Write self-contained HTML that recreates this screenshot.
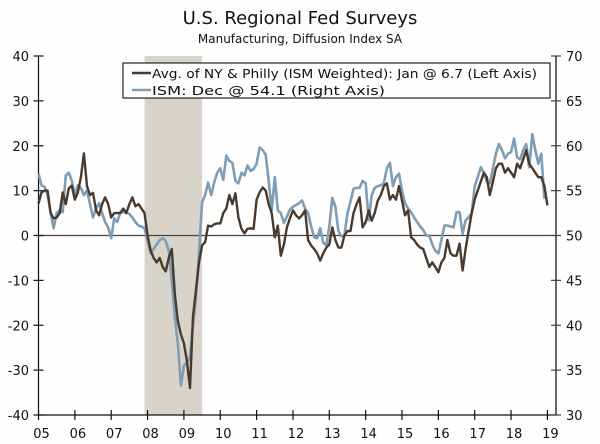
<!DOCTYPE html>
<html><head><meta charset="utf-8"><style>
html,body{margin:0;padding:0;background:#fdfefd;}
svg{display:block;font-family:"DejaVu Sans","Liberation Sans",sans-serif;}
</style></head><body>
<svg width="600" height="444" viewBox="0 0 600 444">
<rect x="0" y="0" width="600" height="444" fill="#fdfefd"/>
<text x="300" y="24" text-anchor="middle" font-size="18" fill="#111">U.S. Regional Fed Surveys</text>
<text x="300" y="43" text-anchor="middle" font-size="12" fill="#111">Manufacturing, Diffusion Index SA</text>
<g id="shade"></g>
<g id="axes"></g>
<g id="series"></g>
<g>
<rect x="123" y="63" width="427" height="35" fill="#fdfefd" stroke="#222" stroke-width="1.2"/>
<line x1="132" y1="73" x2="151" y2="73" stroke="#4a3a2e" stroke-width="2.5"/>
<text x="152" y="78" font-size="12" fill="#111" textLength="385" lengthAdjust="spacingAndGlyphs">Avg. of NY &amp; Philly (ISM Weighted): Jan @ 6.7  (Left Axis)</text>
<line x1="132" y1="90" x2="151" y2="90" stroke="#7f9db4" stroke-width="2.5"/>
<text x="152" y="95" font-size="12" fill="#111" textLength="233" lengthAdjust="spacingAndGlyphs">ISM: Dec @ 54.1  (Right Axis)</text>
</g>
</svg>
<script>
const years = ["05","06","07","08","09","10","11","12","13","14","15","16","17","18","19"];
const leftTicks = [-40,-30,-20,-10,0,10,20,30,40];
const rightTicks = [30,35,40,45,50,55,60,65,70];
const recession = [2007.917, 2009.5];
const avgNYPhilly = [
7.1,9.6,10,10,5,3.8,4,5,9.6,7,10.5,11.1,
8,9.6,13,18.3,11,9,9.5,5.6,4.5,7,8.5,7,
4,5,5,5,6,5,7,8.5,6.5,7,6,5,
0,-3.3,-5,-6,-5,-7,-8,-5,-3,-13,-19,-22,
-24,-28,-34,-18,-12,-6,-2.2,-1.5,2.2,2,2.5,2.7,
2.7,5,6,9,7,9.4,4,1.5,0.5,1.5,1.6,1.5,
8,9.6,10.7,10,7,5,-0.4,2.2,-4.5,-2,1.8,3.8,
5.6,4.5,3.8,4.5,5.6,-1,-2.2,-3,-4,-5.6,-4,-2.7,
-2,1.8,-1,-2.7,-2.7,0,1,1,5,7,8.5,1.8,
3,5.6,3.3,5,7.8,9,11,11.6,8,9,8,11,
7.8,4.5,5.6,-0.4,-1,-2,-2.7,-3,-5,-7,-6,-7,
-8.2,-6,-5,-1,-4,-4.5,-4.5,-1.8,-7.8,-3,1,5,
8,10,12,14,13,9,12,15,16,16,14,15,
14,13,16,15,17,19,16,15,14,13,13,11,
6.7];
const ism = [
56.9,55.6,55.4,54.5,52.6,50.8,52.5,52.8,52.6,56.7,57,56.1,
54.5,55.6,55.3,54.5,55,53.5,52,53,53.6,52.5,51.5,50.9,
49.7,51.9,51.5,52.6,52.6,52.6,52.4,52,51.5,51.1,51,50.8,
49.4,48,48.5,49,49.5,49.7,49.4,48.3,45,41,38,33.3,
35.5,35.8,36.5,40,43,48,53.7,54.5,55.9,54.5,55.9,57,
57.5,56.2,58.9,58.3,58.1,56.1,55.8,57,56.7,57.8,57.2,57.4,
58,59.8,59.5,59,56.1,52.8,56.5,52.8,52.5,51.4,52.1,52.9,
53.2,53.4,53.6,53.9,53,52.5,51,49.8,49.7,50.8,49.2,48.9,
51,54.2,53.2,50.5,49.9,50,52.5,53.8,55.2,55.3,55.3,56.1,
55.8,51.7,54.5,55.3,55.5,55.6,55.8,57.5,58.1,55.5,56.5,56.9,
55,53.6,53,52.6,52,51.5,51,50.6,50,50,49,48.3,
48,49.5,51.1,51.1,51,50.9,52.6,52.6,50.2,51.7,52,52.5,
55.5,56.5,57.6,57,56,55.8,57.5,59.1,60.2,59.5,58.6,59.1,
59.3,60.8,58.7,58.5,59.5,60.2,57.6,61.3,59.5,58,59.1,54.1];

const NS="http://www.w3.org/2000/svg";
const X0=38.5, XW=36.35, YT=56, YB=415, XR=556;
const xOf = t => X0 + (t-2005)*XW;
const yL = v => YB - (v+40)/80*(YB-YT);
const yR = v => YB - (v-30)/40*(YB-YT);
function mk(tag, attrs, parent){const e=document.createElementNS(NS,tag);for(const k in attrs)e.setAttribute(k,attrs[k]);parent.appendChild(e);return e;}

const shade=document.getElementById('shade');
const sh=mk('rect',{x:xOf(recession[0]),y:YT,width:xOf(recession[1])-xOf(recession[0]),height:YB-YT,fill:'#d9d4c9'},shade);



const ax=document.getElementById('axes');
const zl=mk('line',{x1:X0,x2:XR,y1:yL(0),y2:yL(0),stroke:'#444','stroke-width':1.3},ax);


const la=mk('line',{x1:X0,x2:X0,y1:YT,y2:YB,stroke:'#111','stroke-width':1.2},ax);


const ra=mk('line',{x1:XR,x2:XR,y1:YT,y2:YB,stroke:'#666','stroke-width':2},ax);


const ba=mk('line',{x1:X0,x2:XR,y1:YB,y2:YB,stroke:'#111','stroke-width':1.2},ax);


leftTicks.forEach(v=>{
  const y=yL(v);
  mk('line',{x1:X0-5,x2:X0+5,y1:y,y2:y,stroke:'#111','stroke-width':1.2},ax);
  const t=mk('text',{x:29,y:y+5,'text-anchor':'end','font-size':13,fill:'#111'},ax);
  t.textContent=v;
  
  
});
rightTicks.forEach(v=>{
  const y=yR(v);
  mk('line',{x1:XR-5,x2:XR+5,y1:y,y2:y,stroke:'#444','stroke-width':1.2},ax);
  const t=mk('text',{x:566,y:y+5,'font-size':13,fill:'#111'},ax);
  t.textContent=v;
  
  
});
years.forEach((yl,i)=>{
  const x=xOf(2005+i);
  mk('line',{x1:x,x2:x,y1:YB-5,y2:YB+5,stroke:'#111','stroke-width':1.2},ax);
  const t=mk('text',{x:x+3,y:438,'text-anchor':'middle','font-size':13,fill:'#111'},ax);
  t.textContent=yl;
  
  
});

const sg=document.getElementById('series');
const ptsI=ism.map((v,i)=>xOf(2005+i/12).toFixed(1)+','+yR(v).toFixed(1)).join(' ');
const pI=mk('polyline',{points:ptsI,fill:'none',stroke:'#7f9db4','stroke-width':2.6,'stroke-linejoin':'round'},sg);


const ptsA=avgNYPhilly.map((v,i)=>xOf(2005+i/12).toFixed(1)+','+yL(v).toFixed(1)).join(' ');
const pA=mk('polyline',{points:ptsA,fill:'none',stroke:'#4a3a2e','stroke-width':2.4,'stroke-linejoin':'round'},sg);


</script>
</body></html>
